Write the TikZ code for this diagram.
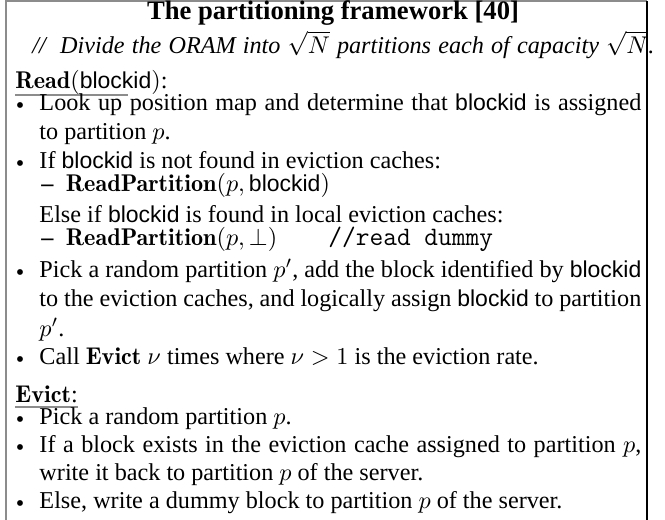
\documentclass[tikz,border=0pt]{standalone}
\usepackage[no-math]{fontspec}
\setmainfont{Liberation Serif}
\setsansfont{Liberation Sans}[Scale=0.95]
\usepackage{xcolor}
\usepackage{tikz}
\usetikzlibrary{positioning}

\definecolor{framegray}{gray}{0.55}
\newcommand{\lmbold}[1]{{\fontfamily{lmr}\selectfont\bfseries #1}}
\newcommand{\lmtt}[1]{{\fontfamily{lmtt}\fontsize{11}{12}\selectfont #1}}
\newcommand{\jline}[1]{\makebox[248.7pt][s]{#1}}
\newcommand{\bid}{\textsf{blockid}}
\newcommand{\itemdot}{\raisebox{-1.4pt}{\textbullet}}

\begin{document}
\begin{tikzpicture}[
    x=0.4132pt, y=-0.4132pt,
    txt/.style={anchor=base west, inner sep=0pt, font=\fontsize{10}{12}\selectfont},
    bul/.style={anchor=base, inner sep=0pt, font=\fontsize{10}{12}\selectfont},
    uline/.style={framegray, line width=0.5pt},
    edge/.style={line width=0.6pt}
]
    \useasboundingbox (0,0) rectangle (665,520);

    % Frame
    \draw[edge, framegray] (647,1) -- (6,1) -- (6,520);
    \draw[edge, black] (647,1) -- (647,520);

    % Heading
    \node[anchor=base, inner sep=0pt, font=\fontsize{11}{13}\selectfont\bfseries] (title) at (333,19) {The partitioning framework [40]};
    \node[txt, font=\fontsize{10}{12}\selectfont\itshape] (sub) at (32,53) {\makebox[257pt][s]{//~ Divide the ORAM into $\sqrt{N}$ partitions each of capacity $\sqrt{N}$.}};

    % Read
    \node[txt] (rdhead) at (15,88) {\lmbold{Read}$($\bid$)$:};
    \draw[uline] (15,95) -- (128,95);

    \node[bul] (b1) at (20,110) {\itemdot};
    \node[txt] (l1) at (39,110) {\jline{Look up position map and determine that \bid{} is assigned}};
    \node[txt] (l2) at (39,139) {to partition $p$.};

    \node[bul] (b2) at (20,168) {\itemdot};
    \node[txt] (l3) at (39,168) {If \bid{} is not found in eviction caches:};
    \node[txt] (l4) at (41,191) {\textbf{--}\enspace\lmbold{ReadPartition}$(p,\mbox{\bid})$};
    \node[txt] (l5) at (39,222) {Else if \bid{} is found in local eviction caches:};
    \node[txt] (l6) at (41,245) {\textbf{--}\enspace\lmbold{ReadPartition}$(p,\perp)$};
    \node[txt] (l6b) at (328,245) {\lmtt{//read dummy}};

    \node[bul] (b3) at (20,277) {\itemdot};
    \node[txt] (l7) at (39,277) {\jline{Pick a random partition $p'$, add the block identified by \bid}};
    \node[txt] (l8) at (39,306) {\jline{to the eviction caches, and logically assign \bid{} to partition}};
    \node[txt] (l9) at (39,336) {$p'$.};

    \node[bul] (b4) at (20,364) {\itemdot};
    \node[txt] (l10) at (39,364) {Call \lmbold{Evict} $\nu$ times where $\nu>1$ is the eviction rate.};

    % Evict
    \node[txt] (evhead) at (15,402) {\lmbold{Evict}:};
    \draw[uline] (15,407) -- (78,407);

    \node[bul] (b5) at (20,424) {\itemdot};
    \node[txt] (l11) at (39,424) {Pick a random partition $p$.};
    \node[bul] (b6) at (20,452) {\itemdot};
    \node[txt] (l12) at (39,452) {\jline{If a block exists in the eviction cache assigned to partition $p$,}};
    \node[txt] (l13) at (39,480) {write it back to partition $p$ of the server.};
    \node[bul] (b7) at (20,508) {\itemdot};
    \node[txt] (l14) at (39,508) {Else, write a dummy block to partition $p$ of the server.};
\end{tikzpicture}
\end{document}
